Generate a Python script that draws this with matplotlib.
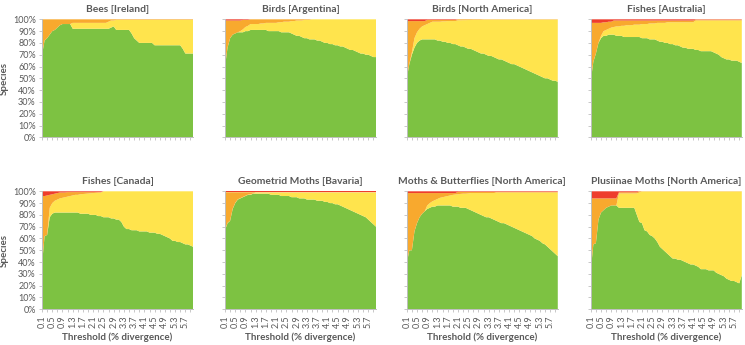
import matplotlib
matplotlib.use('Agg')
import matplotlib.pyplot as plt
from matplotlib.ticker import FixedLocator, PercentFormatter
import numpy as np

plt.rcParams['font.family'] = ['Lato', 'DejaVu Sans']

# threshold categories 0.1 .. 6.0
threshold = np.round(np.arange(1, 61) * 0.1, 1)
tick_labels = ['%.1f' % v for v in threshold[::4]]

titles = ['Bees [Ireland]', 'Birds [Argentina]', 'Birds [North America]', 'Fishes [Australia]',
          'Fishes [Canada]', 'Geometrid Moths [Bavaria]', 'Moths & Butterflies [North America]',
          'Plusiinae Moths [North America]']

# % of species per category (green / orange / red; yellow is the remainder)
bees_green = [70, 82, 84, 87, 90, 91, 93, 95, 96, 96,
              96, 96, 92, 92, 92, 92, 92, 92, 92, 92,
              92, 92, 92, 92, 92, 92, 92, 93, 94, 91,
              91, 91, 91, 91, 91, 88, 84, 82, 80, 80,
              80, 80, 80, 80, 78, 78, 78, 78, 78, 78,
              78, 78, 78, 78, 78, 75, 71, 71, 71, 71]
bees_orange = [30, 18, 16, 13, 10, 9, 7, 5, 4, 4,
               4, 4, 3, 3, 3, 3, 3, 3, 3, 3,
               3, 3, 3, 3, 3, 3, 2, 1, 1, 0.5] + [0.5] * 30
bees_red = [0] * 60

arg_green = [60, 76, 84, 87, 88, 89, 89, 89, 90, 90,
             91, 91, 91, 91, 91, 91, 91, 90, 90, 90,
             90, 90, 89, 89, 89, 89, 88, 87, 86, 86,
             85, 84, 84, 83, 83, 83, 82, 82, 81, 80,
             80, 79, 79, 78, 78, 77, 77, 76, 75, 74,
             74, 73, 72, 71, 71, 70, 70, 69, 68, 68]
arg_orange = [39, 23, 15, 12, 11, 10, 9, 8, 6, 5,
              4, 4, 4, 4, 3.5, 3.5, 3, 3, 3, 3,
              3, 2.5, 2.5, 2, 2, 2, 1.5, 1.5, 1, 1,
              1, 0.5, 0.5, 0.5] + [0] * 26
arg_red = [1, 1, 1, 1, 1, 1, 1, 0.5, 0.5, 0.5] + [0] * 50

nab_green = [50, 62, 70, 76, 80, 82, 83, 83, 83, 83,
             83, 83, 82, 82, 81, 81, 80, 80, 79, 79,
             78, 77, 77, 76, 75, 75, 74, 73, 72, 71,
             71, 70, 69, 69, 68, 67, 66, 66, 65, 64,
             63, 62, 62, 61, 60, 59, 58, 57, 56, 55,
             54, 53, 52, 51, 50, 50, 49, 48, 48, 47]
nab_orange = [48.5, 36.5, 26.5, 14.5, 9.5, 6.5, 4.5, 3.5, 3.5, 2.5,
              1.5, 1.5, 1.5, 1.5, 1.2, 1.2, 1, 1, 1, 1,
              0.8, 0.8, 0.7, 0.7, 0.6, 0.6, 0.5, 0.5, 0.5, 0.5] + [0.3] * 30
nab_red = [1.5] * 8 + [0.5] * 12 + [0] * 40

aus_green = [48, 64, 71, 80, 84, 86, 86, 87, 87, 87,
             86, 86, 86, 85, 85, 85, 85, 85, 85, 85,
             84, 84, 84, 83, 83, 83, 82, 81, 81, 80,
             80, 79, 79, 78, 78, 77, 76, 76, 75, 75,
             75, 74, 74, 73, 73, 73, 73, 73, 72, 71,
             70, 68, 67, 66, 66, 65, 65, 65, 64, 63]
aus_orange = [49, 33, 26, 17, 11, 7.5, 6.5, 6, 5, 5.5,
              5, 5, 4.5, 4.5, 4, 4, 4, 3.5, 3.5, 3.5,
              3, 3, 3, 2.5, 2.5, 2.5, 2, 2, 2, 2] + [1.5] * 11 + [0.7] * 19
aus_red = [3, 3, 3, 3, 3, 2.5, 2.5, 2, 2] + [1] * 32 + [0.3] * 19

can_green = [38, 62, 63, 78, 81, 82, 82, 82, 82, 82,
             82, 82, 82, 82, 82, 81, 81, 81, 81, 80,
             80, 80, 79, 79, 78, 78, 78, 77, 77, 76,
             76, 74, 70, 68, 68, 67, 67, 67, 66, 66,
             66, 66, 65, 65, 65, 64, 64, 63, 62, 61,
             60, 58, 58, 57, 57, 56, 55, 55, 54, 53]
can_orange = [58, 34, 33.5, 11, 7.5, 6, 5.5, 5, 4.5, 4,
              3.8, 3.3, 2.8, 2.3, 2.3, 1.8, 1.6, 1.4, 1.2, 1,
              0.8, 0.6, 0.4, 0.3] + [0] * 36
can_red = [4, 4, 3.5, 3, 2.5, 2, 1.5, 1, 1, 1] + [0.7] * 14 + [0] * 36

bav_green = [67, 73, 75, 85, 90, 93, 94, 95, 96, 97,
             97, 98, 98, 98, 98, 98, 98, 98, 97, 97,
             97, 97, 96, 96, 96, 96, 95, 95, 95, 94,
             94, 94, 93, 93, 93, 93, 92, 92, 92, 91,
             91, 90, 90, 89, 89, 88, 87, 86, 85, 84,
             83, 82, 81, 80, 79, 78, 76, 74, 72, 70]
bav_orange = [32, 26, 24, 14, 9, 6, 5, 4, 3, 2,
              1.7, 1] + [0.3] * 48
bav_red = [0.8] * 60

mbn_green = [39, 50, 50, 66, 73, 78, 81, 83, 85, 86,
             87, 87, 88, 88, 88, 88, 88, 88, 87, 87,
             87, 86, 86, 86, 85, 84, 83, 82, 81, 80,
             79, 78, 78, 77, 76, 75, 74, 73, 73, 72,
             71, 70, 69, 68, 67, 66, 65, 64, 63, 62,
             60, 59, 58, 56, 55, 53, 51, 49, 47, 45]
mbn_orange = [59.5, 48.5, 48.5, 32.5, 25.5, 20.5, 17.5, 15.5, 10.5, 8.5,
              7, 6, 5, 4, 3.5, 3, 2.5, 2, 1.5, 1.2,
              2, 1.7, 1.5, 1.5, 1.3] + [1.0] * 10 + [0.5] * 25
mbn_red = [1.5] * 20 + [0.5] * 40

plu_green = [33, 55, 56, 76, 82, 84, 86, 87, 88, 88,
             88, 86, 86, 86, 86, 86, 86, 86, 80, 74,
             73, 67, 66, 63, 62, 60, 57, 53, 51, 49,
             47, 45, 43, 43, 42, 42, 41, 40, 39, 38,
             38, 37, 36, 34, 34, 34, 33, 33, 33, 31,
             30, 29, 28, 26, 25, 24, 24, 23, 22, 29]
plu_orange = [61, 39, 38, 18, 12, 10, 8, 7, 6, 6,
              6] + [1] * 9 + [0.2] * 40
plu_red = [6] * 11 + [0.8] * 8 + [0] * 41

greens = [bees_green, arg_green, nab_green, aus_green, can_green, bav_green, mbn_green, plu_green]
oranges = [bees_orange, arg_orange, nab_orange, aus_orange, can_orange, bav_orange, mbn_orange, plu_orange]
reds = [bees_red, arg_red, nab_red, aus_red, can_red, bav_red, mbn_red, plu_red]

colors = ['#7DC242', '#FFE44D', '#F8A92E', '#EE3D2C']
txt = '#595959'
axis_col = '#BFBFBF'

fig = plt.figure(figsize=(7.45, 3.45), dpi=100)

lefts = [0.0564, 0.302, 0.546, 0.793]
bottoms = [0.602, 0.1035]
w, h = 0.2027, 0.342

for k in range(8):
    row, col = k // 4, k % 4
    ax = fig.add_axes([lefts[col], bottoms[row], w, h])

    g = np.array(greens[k], dtype=float)
    o = np.array(oranges[k], dtype=float)
    r = np.array(reds[k], dtype=float)
    y = 100 - g - o - r

    ax.stackplot(threshold, g, y, o, r, colors=colors, linewidth=0)
    ax.set_xlim(threshold[0], threshold[-1])
    ax.set_ylim(0, 100)

    ax.yaxis.set_major_locator(FixedLocator(np.arange(0, 101, 10)))
    ax.yaxis.set_major_formatter(PercentFormatter(decimals=0))
    ax.xaxis.set_major_locator(FixedLocator(threshold[::4]))
    ax.xaxis.set_minor_locator(FixedLocator(threshold[2::4]))

    for s in ['top', 'right']:
        ax.spines[s].set_visible(False)
    for s in ['left', 'bottom']:
        ax.spines[s].set_color(axis_col)
        ax.spines[s].set_linewidth(0.7)
    ax.tick_params(which='both', length=2.5, width=0.6, color=axis_col,
                   labelsize=6.5, labelcolor=txt, pad=2)

    if row == 1:
        ax.set_xticklabels(tick_labels, rotation=90)
        ax.set_xlabel('Threshold (% divergence)', fontsize=7, color=txt,
                      fontweight='bold', labelpad=3)
    else:
        ax.set_xticklabels([])
    if col == 0:
        ax.set_ylabel('Species', fontsize=7, color=txt, fontweight='bold', labelpad=3)
    else:
        ax.set_yticklabels([])

    ax.set_title(titles[k], fontsize=7.4, color=txt, fontweight='bold', pad=5)

fig.savefig('out.png', dpi=100)
